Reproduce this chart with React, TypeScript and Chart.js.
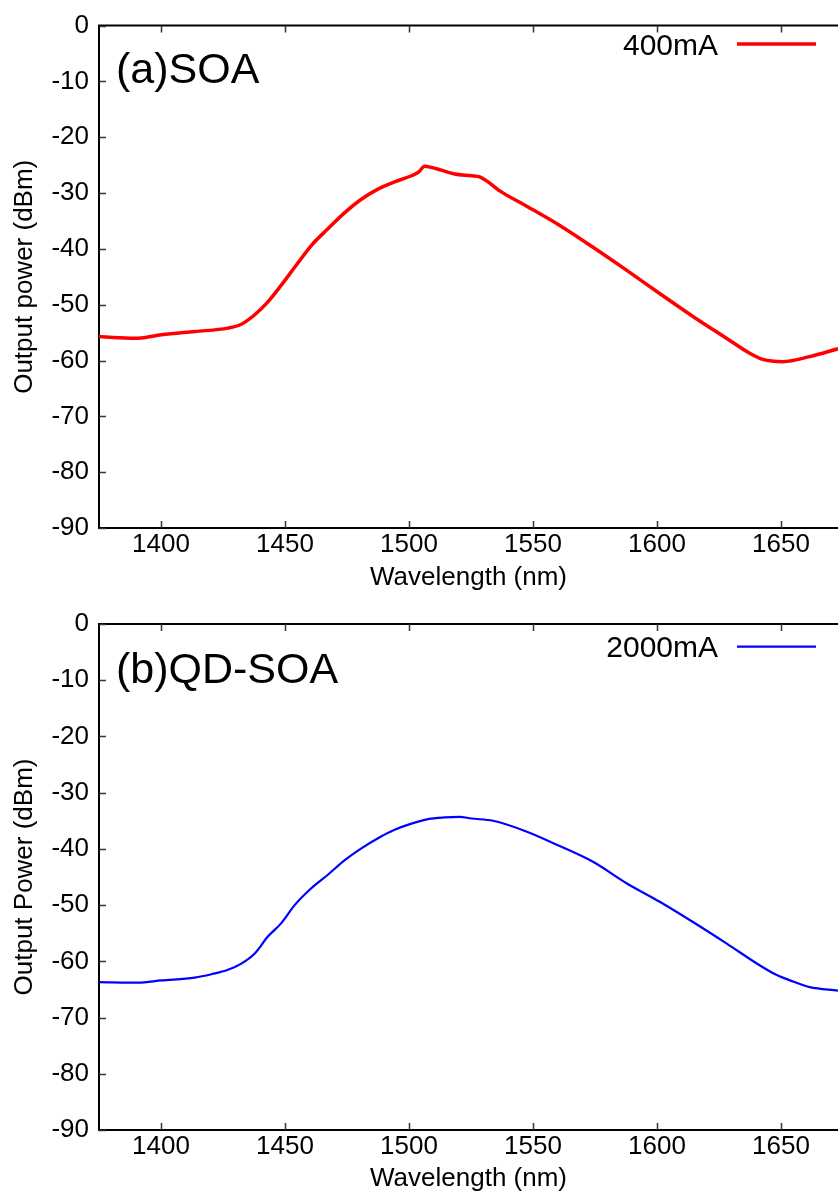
import React, { useEffect, useRef } from "react";
import { Chart, registerables } from "chart.js";

Chart.register(...registerables);

const FONT = "'Liberation Sans', Arial, Helvetica, sans-serif";

const xTicks = [1400, 1450, 1500, 1550, 1600, 1650];
const yTicks = [0, -10, -20, -30, -40, -50, -60, -70, -80, -90];

const soaWavelength = [
  1375, 1383, 1390.7, 1400.2, 1413.6, 1427, 1432.4, 1437.8, 1443.1, 1448.5,
  1453.9, 1460.6, 1467.3, 1474.1, 1480.8, 1487.5, 1494.2, 1501, 1504, 1506.3, 1509,
  1513, 1518.4, 1525.2, 1528.5, 1531.9, 1536.6, 1547.3, 1560.8, 1574.2, 1587.7,
  1601.1, 1614.5, 1628, 1637.4, 1642.7, 1650.8, 1661.6, 1673,
];
const soaPower = [
  -55.7, -55.9, -56.0, -55.4, -54.8, -54.2, -53.5, -51.8, -49.5, -46.5,
  -43.3, -39.4, -36.4, -33.5, -31.1, -29.3, -28.0, -26.9, -26.2, -25.2, -25.4,
  -25.9, -26.6, -26.9, -27.1, -28.0, -29.6, -32.3, -35.8, -39.7, -43.8,
  -48.0, -52.1, -56.0, -58.7, -59.8, -60.2, -59.3, -57.9,
];

const qdWavelength = [
  1375, 1390.8, 1400.2, 1413.6, 1420.3, 1427, 1432.4, 1437.8, 1443.1, 1448.5, 1453.9,
  1460.6, 1467.3, 1474.1, 1480.8, 1487.5, 1494.2, 1501, 1507.7, 1514.4, 1520.4,
  1525.2, 1533.9, 1547.3, 1560.8, 1574.2, 1587.7, 1601.1, 1614.5, 1628, 1641.4,
  1648.1, 1654.9, 1661.6, 1673,
];
const qdPower = [
  -63.7, -63.8, -63.4, -62.9, -62.3, -61.5, -60.4, -58.6, -55.6, -53.2, -50.0,
  -47.0, -44.6, -42.0, -39.9, -38.1, -36.6, -35.5, -34.7, -34.4, -34.3,
  -34.6, -35.0, -36.9, -39.5, -42.3, -46.1, -49.4, -53.0, -56.8, -60.7,
  -62.4, -63.6, -64.6, -65.2,
];

const framePlugin = {
  id: "frame",
  afterDraw(chart: any, _args: any, opts: any) {
    const { ctx, chartArea: a, scales } = chart;
    const x = scales.x;
    const y = scales.y;
    ctx.save();
    ctx.strokeStyle = "#000";
    ctx.lineWidth = 2;
    ctx.beginPath();
    ctx.moveTo(a.left - 1, a.top);
    ctx.lineTo(a.right, a.top);
    ctx.stroke();
    ctx.strokeStyle = "#333";
    ctx.lineWidth = 1.5;
    ctx.beginPath();
    x.ticks.forEach((t: any) => {
      const px = Math.round(x.getPixelForValue(t.value)) + 0.5;
      ctx.moveTo(px, a.bottom);
      ctx.lineTo(px, a.bottom - 7);
      ctx.moveTo(px, a.top);
      ctx.lineTo(px, a.top + 7);
    });
    y.ticks.forEach((t: any) => {
      const py = Math.round(y.getPixelForValue(t.value)) + 0.5;
      ctx.moveTo(a.left, py);
      ctx.lineTo(a.left + 7, py);
    });
    ctx.stroke();
    ctx.fillStyle = "#000";
    ctx.font = `43px ${FONT}`;
    ctx.textAlign = "left";
    ctx.textBaseline = "alphabetic";
    ctx.fillText(opts.panel, opts.panelX, opts.panelY);
    const ds = chart.data.datasets[0];
    ctx.font = `30px ${FONT}`;
    ctx.textAlign = "right";
    ctx.fillText(ds.label, opts.legendTextX, opts.legendTextY);
    ctx.strokeStyle = ds.borderColor;
    ctx.lineWidth = opts.legendLineWidth;
    ctx.beginPath();
    ctx.moveTo(opts.legendX1, opts.legendY);
    ctx.lineTo(opts.legendX2, opts.legendY);
    ctx.stroke();
    ctx.restore();
  },
};

function makeConfig(p: any): any {
  return {
    type: "line",
    data: {
      datasets: [
        {
          label: p.label,
          data: p.xs.map((v: number, i: number) => ({ x: v, y: p.ys[i] })),
          borderColor: p.color,
          borderWidth: p.lineWidth,
          pointRadius: 0,
          cubicInterpolationMode: "monotone",
          fill: false,
        },
      ],
    },
    plugins: [framePlugin],
    options: {
      responsive: false,
      animation: false,
      layout: { padding: { top: p.padTop, left: 0, right: 0, bottom: 0 } },
      plugins: {
        legend: { display: false },
        tooltip: { enabled: false },
        frame: {
          panel: p.panel,
          panelX: 116,
          panelY: p.panelY,
          legendTextX: 718,
          legendTextY: p.legendTextY,
          legendX1: 737,
          legendX2: 816,
          legendY: p.legendY,
          legendLineWidth: p.legendLineWidth,
        },
      },
      scales: {
        x: {
          type: "linear",
          min: 1375,
          max: 1673,
          afterBuildTicks: (s: any) => {
            s.ticks = xTicks.map((v) => ({ value: v }));
          },
          afterFit: (s: any) => {
            s.height = p.xAxisHeight;
          },
          grid: { display: true, drawOnChartArea: false, drawTicks: false },
          border: { display: true, color: "#000", width: 2 },
          ticks: {
            font: { family: FONT, size: 26, lineHeight: 1.2 },
            color: "#000",
            padding: 1,
            maxRotation: 0,
            autoSkip: false,
            callback: (v: any) => String(v),
          },
          title: {
            display: true,
            text: "Wavelength (nm)",
            color: "#000",
            font: { family: FONT, size: 26, lineHeight: 1 },
            padding: { top: 0, bottom: p.xTitlePad },
          },
        },
        y: {
          type: "linear",
          min: -90,
          max: 0,
          afterBuildTicks: (s: any) => {
            s.ticks = yTicks.map((v) => ({ value: v }));
          },
          afterFit: (s: any) => {
            s.width = 99;
          },
          grid: { display: true, drawOnChartArea: false, drawTicks: false },
          border: { display: true, color: "#000", width: 2 },
          ticks: {
            font: { family: FONT, size: 26, lineHeight: 1.2 },
            color: "#000",
            padding: 10,
            autoSkip: false,
            callback: (v: any) => String(v),
          },
          title: {
            display: true,
            text: p.yTitle,
            color: "#000",
            font: { family: FONT, size: 26, lineHeight: 1 },
            padding: { top: 12, bottom: 0 },
          },
        },
      },
    },
  };
}

function Panel({ params }: { params: any }) {
  const ref = useRef<HTMLCanvasElement | null>(null);
  useEffect(() => {
    const chart = new Chart(ref.current as HTMLCanvasElement, makeConfig(params));
    return () => chart.destroy();
  }, []);
  return (
    <canvas
      ref={ref}
      width={838}
      height={597}
      style={{ display: "block", width: 838, height: 597 }}
    />
  );
}

const topParams = {
  label: "400mA",
  xs: soaWavelength,
  ys: soaPower,
  color: "#ff0000",
  lineWidth: 3.5,
  padTop: 22,
  xAxisHeight: 69,
  xTitlePad: 6.5,
  yTitle: "Output power (dBm)",
  panel: "(a)SOA",
  panelY: 82.5,
  legendTextY: 55,
  legendY: 44,
  legendLineWidth: 3.7,
};

const bottomParams = {
  label: "2000mA",
  xs: qdWavelength,
  ys: qdPower,
  color: "#0000ff",
  lineWidth: 2.2,
  padTop: 27,
  xAxisHeight: 64,
  xTitlePad: 2,
  yTitle: "Output Power (dBm)",
  panel: "(b)QD-SOA",
  panelY: 86,
  legendTextY: 60.3,
  legendY: 49.7,
  legendLineWidth: 2.2,
};

export default function App() {
  return (
    <div style={{ position: "absolute", left: 0, top: 0, width: 838, height: 1194, background: "#fff" }}>
      <Panel params={topParams} />
      <Panel params={bottomParams} />
    </div>
  );
}
